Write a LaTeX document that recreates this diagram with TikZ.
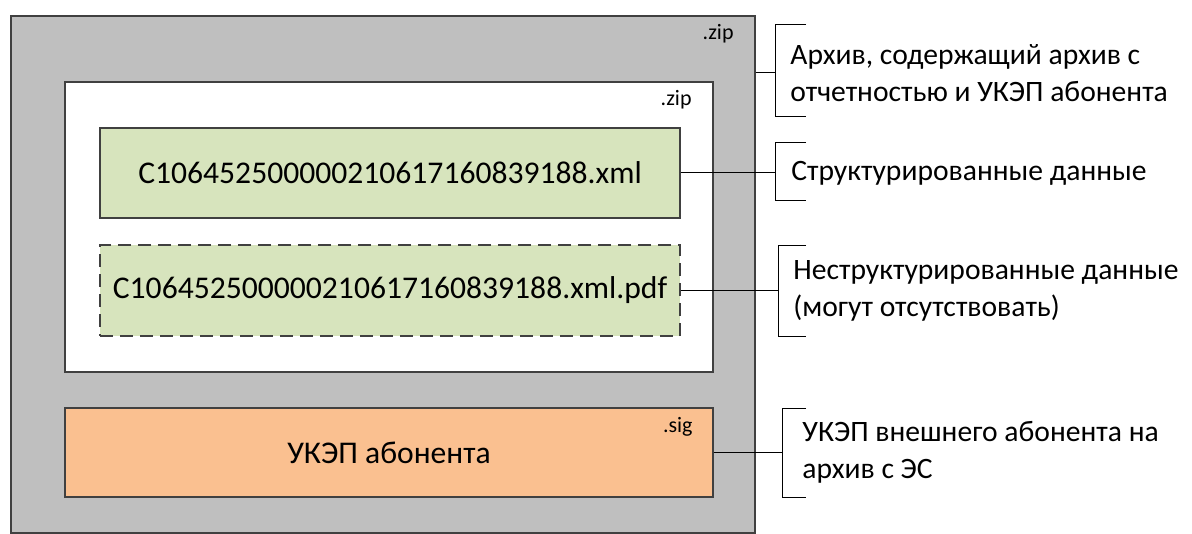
\documentclass[tikz,border=0pt]{standalone}
\usepackage{fontspec}
\setmainfont{Carlito}
\usetikzlibrary{positioning, calc}
\definecolor{archgray}{HTML}{BFBFBF}
\definecolor{xmlgreen}{HTML}{D7E4BD}
\definecolor{sigorange}{HTML}{FAC090}
\definecolor{edgedark}{HTML}{404040}

\tikzset{
  filebox/.style={draw=edgedark, line width=0.6pt, inner sep=0pt},
  extlabel/.style={font=\fontsize{11}{13}\selectfont, anchor=base east, inner sep=0pt},
  boxtext/.style={font=\fontsize{15.8}{18.5}\selectfont},
  note/.style={font=\fontsize{14.8}{18.5}\selectfont, anchor=west, align=left, inner sep=0pt},
  braceline/.style={line width=0.5pt, black}
}

\begin{document}
\begin{tikzpicture}[x=0.5pt, y=-0.5pt]
  \useasboundingbox (0,0) rectangle (1192,534);

  % Outer archive
  \node[filebox, fill=archgray, minimum width=372pt, minimum height=258.5pt] (outer) at (383,274.5) {};
  \node[extlabel] (outerext) at (734,40) {.zip};

  % Inner archive
  \node[filebox, fill=white, minimum width=324pt, minimum height=145pt] (inner) at (389,227) {};
  \node[extlabel] (innerext) at (692,106) {.zip};

  % Files inside
  \node[filebox, fill=xmlgreen, boxtext, minimum width=290pt, minimum height=45pt] (xml) at (390,173)
    {C106452500000210617160839188.xml};
  \node[filebox, fill=xmlgreen, boxtext, dash pattern=on 6.5pt off 3.5pt, minimum width=290pt, minimum height=45.5pt] (pdf) at (390,290.5)
    {C106452500000210617160839188.xml.pdf};

  % Signature
  \node[filebox, fill=sigorange, boxtext, minimum width=324pt, minimum height=44.5pt] (sig) at (389,452.5) {УКЭП абонента};
  \node[extlabel] (sigext) at (693,432) {.sig};

  % Brackets with notes
  \coordinate (br1) at (775,73);
  \draw[braceline] (outer.east |- br1) -- (br1);
  \draw[braceline] (806,25) -- (775,25) -- (775,117) -- (806,117);
  \node[note, right=7.5pt of br1] (note1) {Архив, содержащий архив с\\отчетностью и УКЭП абонента};

  \coordinate (br2) at (775,173);
  \draw[braceline] (xml.east) -- (br2);
  \draw[braceline] (806,143) -- (775,143) -- (775,201) -- (806,201);
  \node[note, right=8pt of br2] (note2) {Структурированные данные};

  \coordinate (br3) at (778,290.5);
  \draw[braceline] (pdf.east) -- (br3);
  \draw[braceline] (806,245) -- (778,245) -- (778,336) -- (806,336);
  \node[note, right=7.5pt of br3] (note3) {Неструктурированные данные\\(могут отсутствовать)};

  \coordinate (br4) at (782,452.5);
  \draw[braceline] (sig.east) -- (br4);
  \draw[braceline] (806,408) -- (782,408) -- (782,497) -- (806,497);
  \node[note, right=10pt of br4] (note4) {УКЭП внешнего абонента на\\архив с ЭС};
\end{tikzpicture}
\end{document}
